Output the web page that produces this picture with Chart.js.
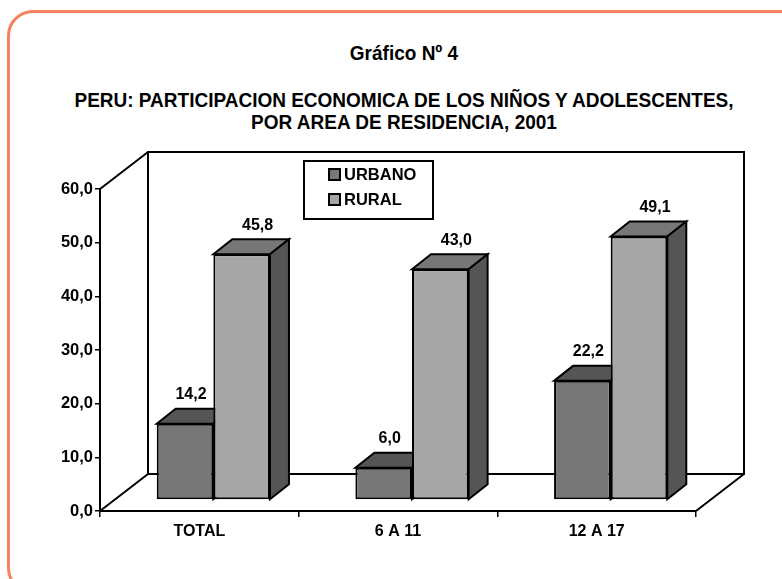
<!DOCTYPE html>
<html>
<head>
<meta charset="utf-8">
<script src="https://cdn.jsdelivr.net/npm/chart.js@4/dist/chart.umd.min.js"></script>
<style>
  html, body { margin: 0; padding: 0; background: #fff; overflow: hidden; }
  #wrap { position: relative; width: 782px; height: 579px; }
  #frame { position: absolute; left: 7px; top: 10px; width: 796px; height: 578px;
           border: 3px solid #f4845f; border-radius: 26px; }
  .ttl { position: absolute; left: 6px; width: 796px; text-align: center;
         font-family: 'Liberation Sans Narrow', 'Arial Narrow', 'Liberation Sans', sans-serif;
         font-weight: bold; color: #000; transform: scaleX(0.95); transform-origin: 50% 50%; }
  canvas { position: absolute; left: 0; top: 0; }
</style>
</head>
<body>
<div id="wrap">
  <div id="frame"></div>
  <div class="ttl" style="top:42px;font-size:20px;">Gráfico Nº 4</div>
  <div class="ttl" style="top:89px;font-size:20px;line-height:22px;">PERU: PARTICIPACION ECONOMICA DE LOS NIÑOS Y ADOLESCENTES,<br>POR AREA DE RESIDENCIA, 2001</div>
  <canvas id="grafico" width="782" height="579"></canvas>
</div>
<script>
var categorias = ['TOTAL', '6 A 11', '12 A 17'];
var urbano = [14.2, 6.0, 22.2];
var rural = [45.8, 43.0, 49.1];
var yTicks = [0, 10, 20, 30, 40, 50, 60];

var FONT = "'Liberation Sans Narrow', 'Arial Narrow', 'Liberation Sans', sans-serif";
// profundidad de las paredes y de las barras
var WALL = { dx: 48, dy: -37 };
var SHIFT = { dx: 14, dy: -11 };
var DEPTH = { dx: 19, dy: -15 };

function fmt(v) { return v.toFixed(1).replace('.', ','); }

var tresD = {
    id: 'tresD',
    beforeDatasetsDraw: function (chart) {
        var ctx = chart.ctx, a = chart.chartArea;
        ctx.save();
        ctx.strokeStyle = '#000';
        ctx.lineWidth = 2;
        // pared del fondo
        ctx.strokeRect(a.left + WALL.dx, a.top + WALL.dy, a.right - a.left, a.bottom - a.top);
        ctx.beginPath();
        ctx.moveTo(a.left, a.top); ctx.lineTo(a.left + WALL.dx, a.top + WALL.dy);
        ctx.moveTo(a.left, a.bottom); ctx.lineTo(a.left + WALL.dx, a.bottom + WALL.dy);
        ctx.moveTo(a.right, a.bottom); ctx.lineTo(a.right + WALL.dx, a.bottom + WALL.dy);
        ctx.stroke();

        // caras superior y lateral de las barras
        ctx.translate(SHIFT.dx, SHIFT.dy);
        chart.data.datasets.forEach(function (ds, i) {
            chart.getDatasetMeta(i).data.forEach(function (bar) {
                var l = bar.x - bar.width / 2, r = bar.x + bar.width / 2, t = bar.y, b = bar.base;
                ctx.fillStyle = ds.topColor;
                ctx.beginPath();
                ctx.moveTo(l, t); ctx.lineTo(l + DEPTH.dx, t + DEPTH.dy);
                ctx.lineTo(r + DEPTH.dx, t + DEPTH.dy); ctx.lineTo(r, t); ctx.closePath();
                ctx.fill(); ctx.stroke();
                ctx.fillStyle = ds.sideColor;
                ctx.beginPath();
                ctx.moveTo(r, t); ctx.lineTo(r + DEPTH.dx, t + DEPTH.dy);
                ctx.lineTo(r + DEPTH.dx, b + DEPTH.dy); ctx.lineTo(r, b); ctx.closePath();
                ctx.fill(); ctx.stroke();
            });
        });
        ctx.restore();
        ctx.save();
        ctx.translate(SHIFT.dx, SHIFT.dy);
    },
    afterDatasetsDraw: function (chart) {
        var ctx = chart.ctx;
        ctx.restore();
        ctx.save();
        // etiquetas de valores
        ctx.font = 'bold 16px ' + FONT;
        ctx.fillStyle = '#000';
        ctx.textAlign = 'center';
        ctx.textBaseline = 'middle';
        chart.data.datasets.forEach(function (ds, i) {
            chart.getDatasetMeta(i).data.forEach(function (bar, j) {
                ctx.fillText(fmt(ds.data[j]), bar.x + SHIFT.dx + ds.labelDx, bar.y + SHIFT.dy - 29);
            });
        });
        // leyenda
        var lx = 304, ly = 161, lw = 129, lh = 58;
        ctx.fillStyle = '#fff';
        ctx.fillRect(lx, ly, lw, lh);
        ctx.lineWidth = 2;
        ctx.strokeStyle = '#000';
        ctx.strokeRect(lx, ly, lw, lh);
        ctx.textAlign = 'left';
        ctx.font = 'bold 16.5px ' + FONT;
        chart.data.datasets.forEach(function (ds, i) {
            var cy = ly + 13 + i * 25;
            ctx.fillStyle = ds.backgroundColor;
            ctx.fillRect(lx + 25, cy - 5, 11, 11);
            ctx.strokeRect(lx + 25, cy - 5, 11, 11);
            ctx.fillStyle = '#000';
            ctx.fillText(ds.label, lx + 40, cy + 1);
        });
        ctx.restore();
    }
};

Chart.defaults.font.family = FONT;
Chart.defaults.font.weight = 'bold';
Chart.defaults.font.size = 16;
Chart.defaults.color = '#000';

new Chart(document.getElementById('grafico').getContext('2d'), {
    type: 'bar',
    data: {
        labels: categorias,
        datasets: [
            {
                label: 'URBANO',
                data: urbano,
                backgroundColor: '#777777',
                topColor: '#555555',
                sideColor: '#555555',
                borderColor: '#000',
                borderWidth: 2,
                borderSkipped: false,
                labelDx: 6
            },
            {
                label: 'RURAL',
                data: rural,
                backgroundColor: '#a6a6a6',
                topColor: '#777777',
                sideColor: '#555555',
                borderColor: '#000',
                borderWidth: 2,
                borderSkipped: false,
                labelDx: 16
            }
        ]
    },
    options: {
        responsive: false,
        animation: false,
        clip: false,
        categoryPercentage: 0.57,
        barPercentage: 1,
        layout: { padding: { left: 0, top: 189, right: 86, bottom: 0 } },
        plugins: { legend: { display: false }, tooltip: { enabled: false } },
        scales: {
            x: {
                grid: { drawOnChartArea: false, color: '#000', lineWidth: 1.5, tickLength: 6 },
                border: { color: '#000', width: 2 },
                ticks: { padding: 5, maxRotation: 0 },
                afterFit: function (s) { s.height = 68; }
            },
            y: {
                min: yTicks[0],
                max: yTicks[yTicks.length - 1],
                afterBuildTicks: function (s) { s.ticks = yTicks.map(function (v) { return { value: v }; }); },
                grid: { drawOnChartArea: false, color: '#000', lineWidth: 1.5, tickLength: 5 },
                border: { color: '#000', width: 2 },
                ticks: { padding: 2, font: { size: 16.5 }, callback: function (v) { return fmt(v); } },
                afterFit: function (s) { s.width = 100; }
            }
        }
    },
    plugins: [tresD]
});
</script>
</body>
</html>
